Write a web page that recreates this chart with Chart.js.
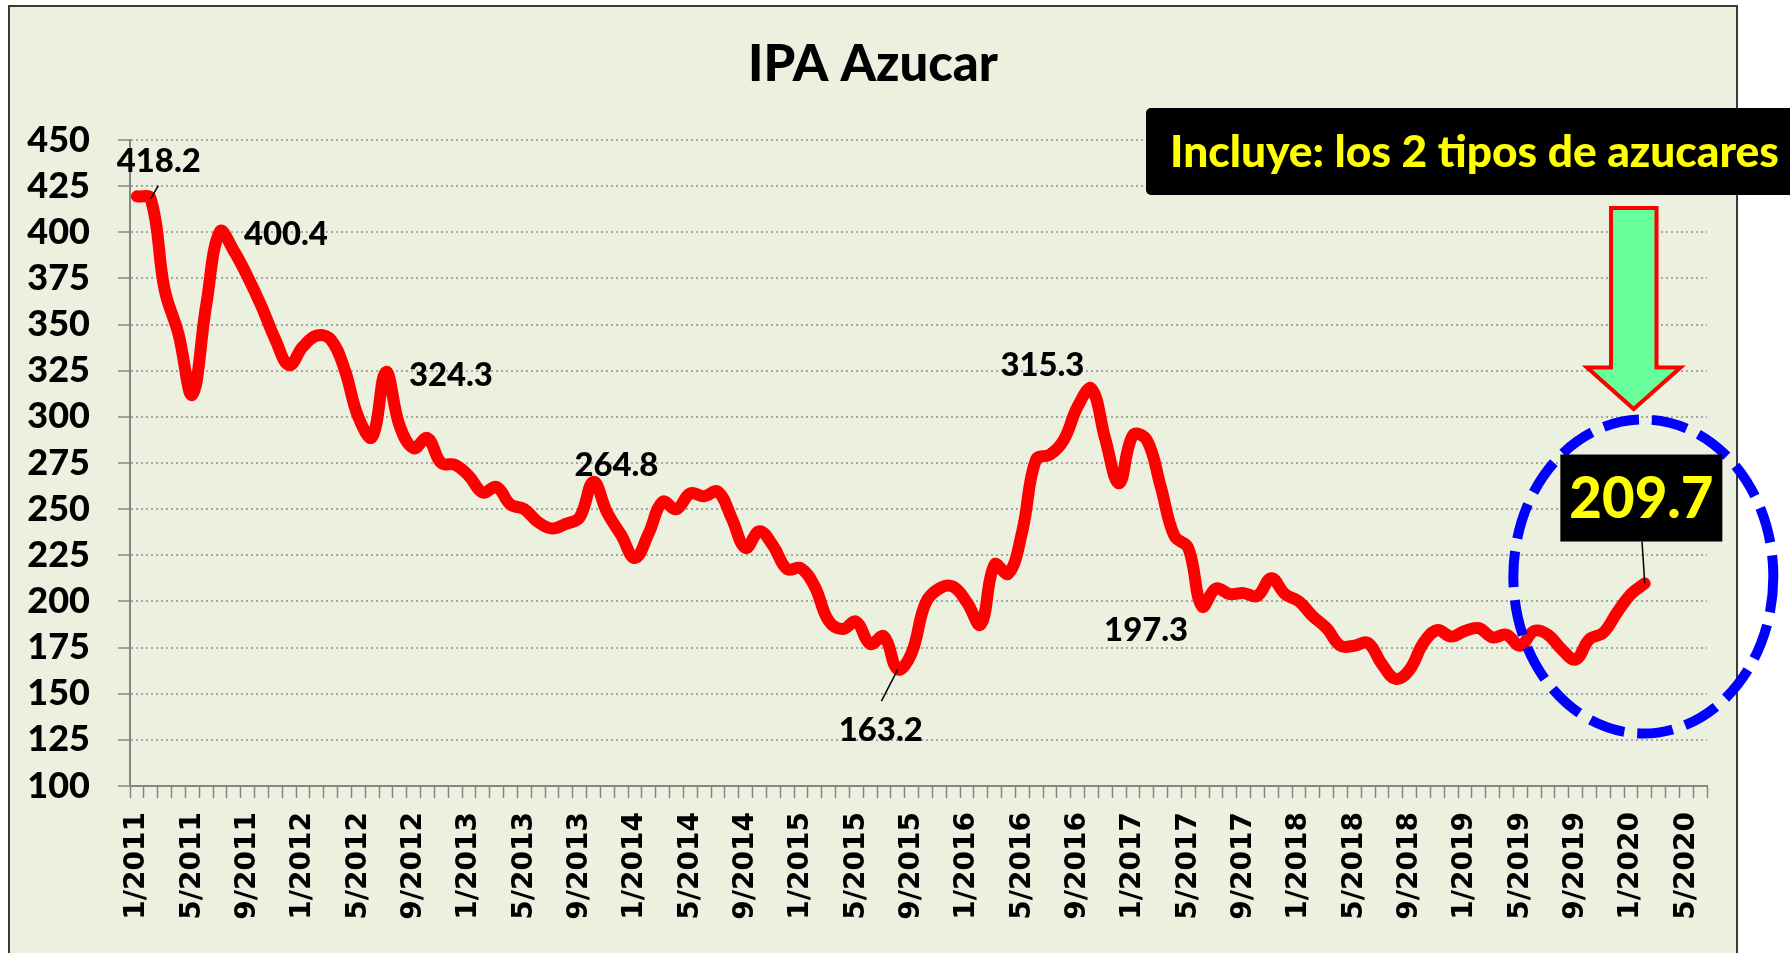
<!DOCTYPE html>
<html>
<head>
<meta charset="utf-8">
<script src="https://cdn.jsdelivr.net/npm/chart.js@4.4.1/dist/chart.umd.min.js"></script>
<style>
html, body { margin: 0; padding: 0; background: #fff; }
canvas { display: block; }
</style>
</head>
<body>
<canvas id="ipa-chart" width="1790" height="953"></canvas>
<script>
// monthly categories 1/2011 .. 6/2020 (the axis runs a few months past the data)
var months = [];
for (var y = 2011; y <= 2020; y++) {
    for (var m = 1; m <= 12; m++) {
        if (y === 2020 && m > 6) break;
        months.push(m + '/' + y);
    }
}

// IPA Azucar, 1/2011 .. 2/2020
var ipaAzucar = [
    419.5, 418.2, 369, 345, 312, 360, 400.4, 390, 376, 360, 342, 328,
    338, 344, 342, 326, 300, 289, 324.3, 295, 283, 288.5, 275, 274,
    268, 259, 262, 252.5, 250, 243, 239.5, 242, 245.5, 264.8, 248, 236,
    223.5, 237, 254, 250, 258.5, 257, 259.5, 245, 229, 238, 230, 217.5,
    218, 208, 189.5, 185, 189, 177, 181, 163.2, 172, 199, 207, 208,
    199.5, 187.5, 220, 215, 238, 277, 279.5, 287.5, 305.5, 315.3, 288, 264,
    290, 287.5, 262.5, 235.5, 229, 197.3, 207, 204, 204.5, 203, 212.5, 204,
    200, 192, 185.5, 176, 176, 177.5, 166, 158, 163, 177.5, 184.5, 181,
    184, 185.5, 180.5, 182, 176, 184, 182, 174, 168.5, 179.5, 183, 194,
    204, 209.7
];

// points that carry a value label
var labelledPoints = [1, 6, 18, 33, 55, 69, 77];
var lastPoint = ipaAzucar.length - 1;

var yTicks = { min: 100, max: 450, step: 25 };
var chartTitle = 'IPA Azucar';
var noteText = 'Incluye: los 2 tipos de azucares';

var calibriLike = 'Lato, "Open Sans", sans-serif';
var heavy = '900';

function fitSize(ctx, text, width) {
    ctx.font = heavy + ' 100px ' + calibriLike;
    return 100 * width / ctx.measureText(text).width;
}

// where each value label sits relative to its point
var labelPlace = {
    1:  { dx: 8,   dy: -37, lead: [7.6, -13] },
    6:  { dx: 66,  dy: 3 },
    18: { dx: 65,  dy: 3 },
    33: { dx: 23,  dy: -16 },
    55: { dx: -17, dy: 61, lead: [-16.3, 31.7] },
    69: { dx: -49, dy: -23 },
    77: { dx: -56, dy: 24 }
};

var overlay = {
    id: 'overlay',
    beforeDraw: function(chart) {
        var ctx = chart.ctx;
        ctx.save();
        ctx.fillStyle = '#ffffff';
        ctx.fillRect(0, 0, chart.width, chart.height);
        ctx.fillStyle = '#EBF1DE';
        ctx.fillRect(9, 6, 1728, 960);
        ctx.strokeStyle = '#3a3a3a';
        ctx.lineWidth = 2;
        ctx.strokeRect(9, 6, 1728, 960);

        var size = fitSize(ctx, chartTitle, 250);
        ctx.font = heavy + ' ' + size + 'px ' + calibriLike;
        ctx.fillStyle = '#000';
        ctx.textAlign = 'center';
        ctx.textBaseline = 'middle';
        ctx.fillText(chartTitle, 873, 65);
        ctx.restore();
    },
    afterDatasetsDraw: function(chart) {
        var ctx = chart.ctx;
        var pts = chart.getDatasetMeta(0).data;
        ctx.save();
        var size = fitSize(ctx, '400.4', 84);
        ctx.font = heavy + ' ' + size + 'px ' + calibriLike;
        ctx.fillStyle = '#000';
        ctx.textAlign = 'center';
        ctx.textBaseline = 'middle';
        labelledPoints.forEach(function(i) {
            var p = pts[i];
            var pl = labelPlace[i];
            ctx.fillText(ipaAzucar[i].toFixed(1), p.x + pl.dx, p.y + pl.dy);
            if (pl.lead) {
                ctx.strokeStyle = '#000';
                ctx.lineWidth = 1.5;
                ctx.beginPath();
                ctx.moveTo(p.x, p.y);
                ctx.lineTo(p.x + pl.lead[0], p.y + pl.lead[1]);
                ctx.stroke();
            }
        });
        ctx.restore();
    },
    afterDraw: function(chart) {
        var ctx = chart.ctx;
        var p = chart.getDatasetMeta(0).data[lastPoint];
        ctx.save();

        // note box at the top right
        ctx.fillStyle = '#000';
        ctx.beginPath();
        ctx.roundRect(1146, 108, 660, 87, 5);
        ctx.fill();
        var size = fitSize(ctx, noteText, 609);
        ctx.font = heavy + ' ' + size + 'px ' + calibriLike;
        ctx.fillStyle = '#FFFF00';
        ctx.textAlign = 'center';
        ctx.textBaseline = 'middle';
        ctx.fillText(noteText, 1474.5, 153);

        // green arrow
        ctx.beginPath();
        ctx.moveTo(1611, 208);
        ctx.lineTo(1656.5, 208);
        ctx.lineTo(1656.5, 367.6);
        ctx.lineTo(1680.5, 367.6);
        ctx.lineTo(1633.7, 409);
        ctx.lineTo(1587, 367.6);
        ctx.lineTo(1611, 367.6);
        ctx.closePath();
        ctx.fillStyle = '#66FF99';
        ctx.fill();
        ctx.strokeStyle = '#FF0000';
        ctx.lineWidth = 4;
        ctx.lineJoin = 'miter';
        ctx.stroke();

        // dashed blue ellipse round the last value
        ctx.beginPath();
        ctx.ellipse(p.x - 1.4, p.y - 7, 130, 157, 0, 0, Math.PI * 2);
        ctx.setLineDash([36, 13]);
        ctx.strokeStyle = '#0000FF';
        ctx.lineWidth = 10;
        ctx.stroke();
        ctx.setLineDash([]);

        // last value in a black box
        var bx = p.x - 3.4, by = p.y - 85.5;
        ctx.strokeStyle = '#000';
        ctx.lineWidth = 1.5;
        ctx.beginPath();
        ctx.moveTo(p.x, p.y);
        ctx.lineTo(p.x - 2.7, by + 43.5);
        ctx.stroke();
        ctx.fillStyle = '#000';
        ctx.fillRect(bx - 81, by - 43.5, 162, 87);
        var txt = ipaAzucar[lastPoint].toFixed(1);
        size = fitSize(ctx, txt, 144);
        ctx.font = heavy + ' ' + size + 'px ' + calibriLike;
        ctx.fillStyle = '#FFFF00';
        ctx.fillText(txt, bx, by + 2);
        ctx.restore();
    }
};

new Chart(document.getElementById('ipa-chart'), {
    type: 'line',
    data: {
        labels: months,
        datasets: [{
            label: chartTitle,
            data: ipaAzucar,
            borderColor: '#FF0000',
            borderWidth: 12,
            borderCapStyle: 'round',
            borderJoinStyle: 'round',
            tension: 0.4,
            pointRadius: 0,
            fill: false
        }]
    },
    options: {
        responsive: false,
        animation: false,
        layout: { padding: { left: 0, top: 140, right: 83, bottom: 0 } },
        plugins: {
            legend: { display: false },
            tooltip: { enabled: false },
            title: { display: false }
        },
        scales: {
            x: {
                type: 'category',
                offset: true,
                afterFit: function(scale) { scale.height = 167; },
                grid: {
                    drawOnChartArea: false,
                    offset: true,
                    tickLength: 12,
                    tickColor: '#868686',
                    tickWidth: 1.5
                },
                border: { color: '#868686', width: 2 },
                ticks: {
                    autoSkip: false,
                    minRotation: 90,
                    maxRotation: 90,
                    padding: 14,
                    color: '#000',
                    font: { family: '"DejaVu Sans"', weight: 'bold', size: 28 },
                    callback: function(value, index) {
                        return index % 4 === 0 ? months[index] : '';
                    }
                }
            },
            y: {
                min: yTicks.min,
                max: yTicks.max,
                afterFit: function(scale) { scale.width = 130; },
                grid: {
                    color: '#A6A6A6',
                    lineWidth: 2,
                    tickLength: 12,
                    tickColor: '#868686',
                    tickWidth: 1.5
                },
                border: { color: '#868686', width: 2, dash: [2, 3] },
                ticks: {
                    stepSize: yTicks.step,
                    autoSkip: false,
                    padding: 28,
                    color: '#000',
                    font: { family: calibriLike, weight: heavy, size: 36 }
                }
            }
        }
    },
    plugins: [overlay]
});
</script>
</body>
</html>
